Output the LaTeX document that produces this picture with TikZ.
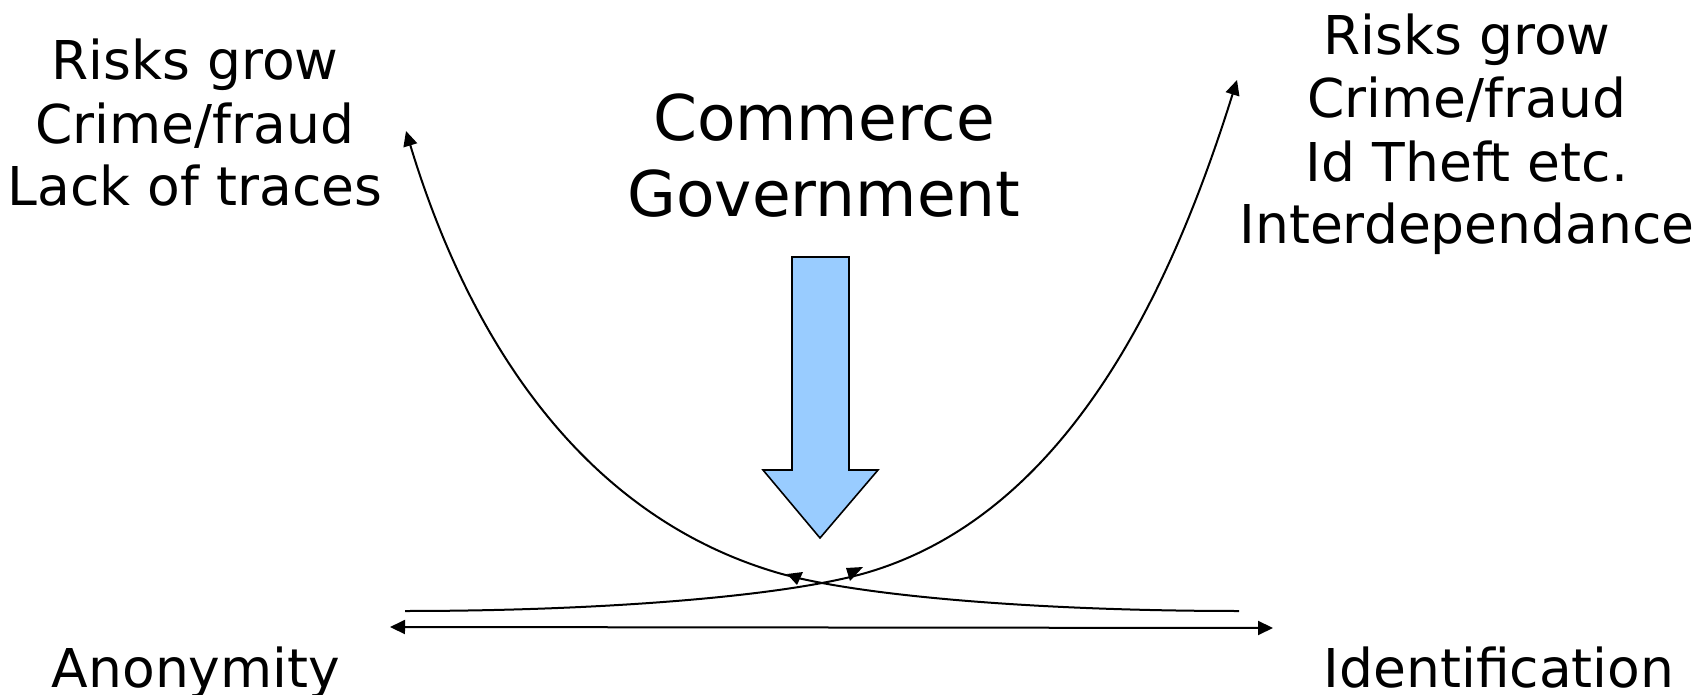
\documentclass[tikz,border=0pt]{standalone}
\usepackage{fontspec}
\setmainfont{DejaVu Sans}
\usetikzlibrary{arrows.meta}
\definecolor{blockblue}{HTML}{99CCFF}
\begin{document}
\begin{tikzpicture}[x=0.5pt,y=-0.5pt,
  sidetext/.style={font=\fontsize{26.75pt}{31.5pt}\selectfont, align=center, inner sep=0pt, anchor=base},
  bigtext/.style={font=\fontsize{31.5pt}{38pt}\selectfont, align=center, inner sep=0pt, anchor=base},
  tipped/.style={line width=1pt, -{Triangle[length=7.5pt,width=7pt]}},
  both tipped/.style={line width=1pt, {Triangle[length=7.5pt,width=7pt]}-{Triangle[length=7.5pt,width=7pt]}},
  block/.style={fill=blockblue, draw=black, line width=0.8pt, line join=miter}]
\useasboundingbox (0,0) rectangle (1708,695);

% texts (anchor base = baseline of the last line)
\node[sidetext] (leftrisks) at (195,206) {Risks grow\\Crime/fraud\\Lack of traces};
\node[sidetext] (rightrisks) at (1467,244) {Risks grow\\Crime/fraud\\Id Theft etc.\\Interdependance};
\node[bigtext] (comgov) at (824,217) {Commerce\\Government};
\node[sidetext] (anon) at (196,687) {Anonymity};
\node[sidetext] (ident) at (1499,687) {Identification};

% block arrow
\draw[block] (792,257) -- (849,257) -- (849,470) -- (878,470) -- (820,538) -- (763,470) -- (792,470) -- cycle;

% horizontal axis
\coordinate (axl) at (390,627);
\coordinate (axr) at (1273,628);
\draw[both tipped] (axl) -- (axr);

% descending curve (left)
\coordinate (lflat) at (1239,611);
\coordinate (lmid) at (775,572);
\coordinate (ltip) at (406,131);
\draw[tipped] (lflat) .. controls (1039,611) and (855,596) .. (lmid)
  .. controls (575,512) and (466,329) .. (ltip);

% ascending curve (right)
\coordinate (rflat) at (405,611);
\coordinate (rmid) at (869,572);
\coordinate (rtip) at (1237,80);
\draw[tipped] (rflat) .. controls (605,611) and (789,596) .. (rmid)
  .. controls (1069,512) and (1172,288) .. (rtip);

% middle arrowheads
\fill (787,574) -- (803,572) -- (797,585) -- cycle;
\fill (846,568) -- (863,567) -- (850,581) -- cycle;
\end{tikzpicture}
\end{document}
